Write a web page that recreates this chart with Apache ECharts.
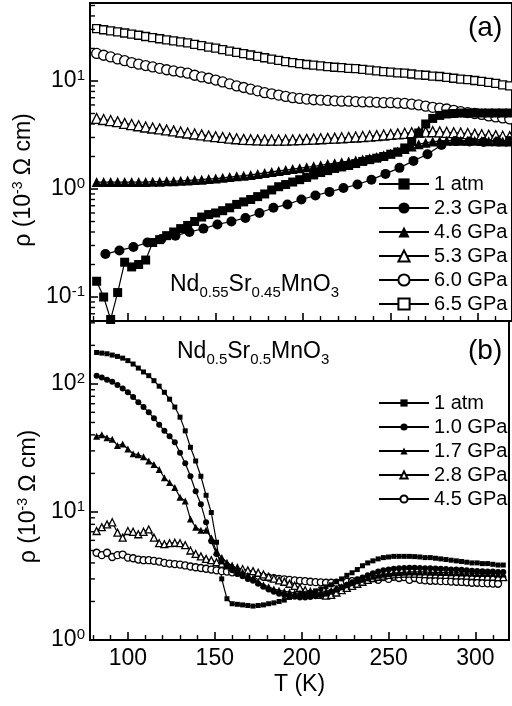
<!DOCTYPE html>
<html>
<head>
<meta charset="utf-8">
<script src="https://cdn.jsdelivr.net/npm/echarts@6/dist/echarts.min.js"></script>
<style>
  html, body { margin: 0; padding: 0; background: #fff; }
  #main { width: 512px; height: 706px; }
</style>
</head>
<body>
<div id="main"></div>
<script>
// ---- panel (a): Nd0.55Sr0.45MnO3 ----
const tA = [82, 86, 90, 94, 98, 102, 106, 110, 114, 118, 122, 126, 130, 134, 138, 142, 146, 150, 154, 158,
  162, 166, 170, 174, 178, 182, 186, 190, 194, 198, 202, 206, 210, 214, 218, 222, 226, 230, 234, 238,
  242, 246, 250, 254, 258, 262, 266, 270, 274, 278, 282, 286, 290, 294, 298, 302, 306, 310, 314, 318];
const a1atm = [0.14, 0.10, 0.062, 0.11, 0.21, 0.19, 0.2, 0.22, 0.32, 0.34,
  0.37, 0.40, 0.43, 0.46, 0.50, 0.55, 0.58, 0.60, 0.63, 0.67,
  0.72, 0.76, 0.80, 0.85, 0.90, 0.98, 1.05, 1.1, 1.16, 1.22,
  1.28, 1.35, 1.42, 1.48, 1.55, 1.6, 1.65, 1.72, 1.8, 1.87,
  1.93, 2.0, 2.1, 2.2, 2.4, 2.75, 3.3, 4.0, 4.5, 4.8,
  4.95, 5.0, 5.05, 5.05, 5.05, 5.05, 5.05, 5.05, 5.05, 5.05];
const t23 = [87, 95, 103, 111, 119, 127, 135, 143, 151, 159, 167, 175, 183, 191, 199,
  207, 215, 223, 231, 239, 247, 255, 263, 271, 279, 287, 295, 303, 311, 318];
const a23 = [0.25, 0.27, 0.29, 0.32, 0.345, 0.37, 0.40, 0.43, 0.47, 0.50, 0.54, 0.60, 0.67, 0.72, 0.80,
  0.87, 0.94, 1.02, 1.10, 1.22, 1.38, 1.57, 1.82, 2.1, 2.55, 2.78, 2.75, 2.72, 2.75, 2.78];
const a46 = [1.16, 1.16, 1.16, 1.16, 1.16, 1.16, 1.16, 1.16, 1.17, 1.17,
  1.18, 1.18, 1.19, 1.2, 1.21, 1.22, 1.24, 1.25, 1.27, 1.29,
  1.31, 1.33, 1.35, 1.38, 1.41, 1.44, 1.47, 1.5, 1.53, 1.56,
  1.59, 1.62, 1.66, 1.7, 1.73, 1.77, 1.8, 1.84, 1.88, 1.93,
  1.98, 2.05, 2.13, 2.22, 2.35, 2.48, 2.6, 2.68, 2.75, 2.78,
  2.8, 2.8, 2.8, 2.8, 2.79, 2.78, 2.77, 2.76, 2.75, 2.75];
const a53 = [4.5, 4.4, 4.3, 4.2, 4.05, 3.95, 3.85, 3.75, 3.67, 3.6,
  3.52, 3.45, 3.37, 3.3, 3.23, 3.17, 3.1, 3.05, 3.0, 2.96,
  2.92, 2.88, 2.86, 2.85, 2.84, 2.84, 2.84, 2.84, 2.85, 2.86,
  2.88, 2.9, 2.92, 2.94, 2.96, 2.98, 3.0, 3.03, 3.06, 3.09,
  3.12, 3.16, 3.2, 3.24, 3.28, 3.32, 3.36, 3.38, 3.4, 3.38,
  3.35, 3.32, 3.3, 3.26, 3.22, 3.18, 3.15, 3.12, 3.08, 3.05];
const a60 = [18.0, 17.3, 16.7, 16.0, 15.4, 14.8, 14.3, 13.9, 13.5, 13.1,
  12.7, 12.4, 12.1, 11.8, 11.3, 10.9, 10.6, 10.2, 9.8, 9.4,
  9.0, 8.7, 8.4, 8.1, 7.8, 7.6, 7.4, 7.2, 7.0, 6.9,
  6.8, 6.7, 6.65, 6.6, 6.55, 6.5, 6.5, 6.45, 6.4, 6.4,
  6.35, 6.3, 6.3, 6.25, 6.2, 6.1, 6.0, 5.85, 5.7, 5.6,
  5.5, 5.35, 5.2, 5.1, 5.0, 4.9, 4.75, 4.65, 4.55, 4.45];
const a65 = [30.5, 29.8, 29.1, 28.5, 27.8, 27.2, 26.5, 25.8, 25.2, 24.6,
  24.0, 23.5, 23.0, 22.5, 21.8, 21.2, 20.6, 20.1, 19.5, 18.9,
  18.4, 17.9, 17.4, 16.9, 16.4, 15.9, 15.5, 15.1, 14.8, 14.5,
  14.2, 14.0, 13.8, 13.6, 13.4, 13.3, 13.1, 13.0, 12.8, 12.6,
  12.4, 12.2, 12.1, 11.9, 11.8, 11.6, 11.4, 11.3, 11.1, 11.0,
  10.8, 10.6, 10.4, 10.3, 10.1, 9.9, 9.7, 9.5, 9.2, 9.0];

// ---- panel (b): Nd0.5Sr0.5MnO3 ----
const tB = [82, 85, 88, 91, 94, 97, 100, 103, 106, 109, 112, 115, 118, 121, 124, 127, 130, 133, 136, 139,
  142, 145, 148, 151, 154, 157, 160, 163, 166, 169, 172, 175, 178, 181, 184, 187, 190, 193, 196, 199,
  202, 205, 208, 211, 214, 217, 220, 223, 226, 229, 232, 235, 238, 241, 244, 247, 250, 253, 256, 259,
  262, 265, 268, 271, 274, 277, 280, 283, 286, 289, 292, 295, 298, 301, 304, 307, 310, 313, 316];
const b1atm = [176, 174, 172, 168, 164, 159, 152, 143, 133, 124,
  116, 106, 96, 86, 76, 66, 55, 43, 32, 25,
  19, 13.5, 9.9, 5.8, 3.0, 2.1, 1.92, 1.9, 1.88, 1.86,
  1.84, 1.86, 1.88, 1.92, 1.95, 2.0, 2.05, 2.15, 2.2, 2.25,
  2.3, 2.35, 2.42, 2.5, 2.6, 2.7, 2.85, 3.0, 3.2, 3.35,
  3.55, 3.8, 4.0, 4.15, 4.3, 4.4, 4.45, 4.5, 4.5, 4.5,
  4.5, 4.48, 4.45, 4.4, 4.4, 4.35, 4.3, 4.25, 4.2, 4.15,
  4.1, 4.05, 4.0, 4.0, 3.95, 3.95, 3.9, 3.85, 3.85];
const b10 = [116, 112, 108, 104, 98, 92, 86, 79, 72, 66,
  60, 54, 48, 43, 39, 35, 29, 24, 19, 14.5,
  11.5, 8.3, 5.9, 4.7, 4.1, 3.75, 3.5, 3.3, 3.15, 3.0,
  2.9, 2.75, 2.6, 2.48, 2.38, 2.3, 2.25, 2.2, 2.18, 2.15,
  2.15, 2.17, 2.2, 2.25, 2.3, 2.38, 2.47, 2.58, 2.7, 2.82,
  2.95, 3.08, 3.2, 3.32, 3.42, 3.5, 3.56, 3.6, 3.63, 3.65,
  3.66, 3.66, 3.65, 3.64, 3.63, 3.62, 3.6, 3.58, 3.56, 3.55,
  3.53, 3.5, 3.48, 3.46, 3.45, 3.43, 3.42, 3.4, 3.4];
const b17 = [39, 40, 38, 37, 33, 34, 31, 28.5, 28, 27,
  25, 23.5, 21.5, 18.5, 17, 15.5, 13, 12.2, 8.8, 7.6,
  7.2, 7.2, 6.3, 4.9, 4.4, 4.05, 3.8, 3.6, 3.4, 3.2,
  3.05, 2.85, 2.7, 2.6, 2.5, 2.45, 2.4, 2.37, 2.34, 2.32,
  2.3, 2.3, 2.32, 2.35, 2.4, 2.45, 2.52, 2.6, 2.7, 2.8,
  2.9, 2.98, 3.06, 3.14, 3.2, 3.26, 3.3, 3.33, 3.36, 3.38,
  3.4, 3.4, 3.4, 3.4, 3.38, 3.38, 3.37, 3.36, 3.35, 3.35,
  3.34, 3.33, 3.32, 3.31, 3.3, 3.3, 3.3, 3.28, 3.27];
const b28 = [7.1, 7.6, 8.0, 8.3, 6.9, 6.3, 7.1, 7.0, 6.7, 7.0,
  7.3, 6.3, 5.7, 5.6, 5.7, 5.75, 5.7, 5.5, 5.0, 4.7,
  4.5, 4.3, 4.2, 4.05, 3.95, 3.85, 3.75, 3.65, 3.58, 3.5,
  3.45, 3.35, 3.25, 3.12, 3.02, 2.92, 2.85, 2.75, 2.65, 2.55,
  2.45, 2.38, 2.3, 2.25, 2.22, 2.25, 2.35, 2.45, 2.55, 2.65,
  2.75, 2.85, 2.95, 3.05, 3.12, 3.18, 3.22, 3.25, 3.28, 3.3,
  3.3, 3.3, 3.28, 3.27, 3.25, 3.25, 3.24, 3.23, 3.22, 3.2,
  3.2, 3.18, 3.16, 3.15, 3.14, 3.13, 3.12, 3.1, 3.1];
const b45 = [4.8, 4.6, 4.8, 4.45, 4.6, 4.65, 4.4, 4.35, 4.25, 4.2,
  4.2, 4.15, 4.1, 4.0, 3.95, 3.92, 3.88, 3.82, 3.75, 3.7,
  3.65, 3.6, 3.55, 3.5, 3.45, 3.42, 3.38, 3.35, 3.3, 3.25,
  3.22, 3.18, 3.12, 3.07, 3.04, 3.0, 2.98, 2.95, 2.92, 2.9,
  2.88, 2.85, 2.83, 2.82, 2.8, 2.8, 2.8, 2.82, 2.85, 2.88,
  2.92, 2.95, 2.98, 3.05, 2.95, 3.1, 3.0, 3.12, 3.05, 3.1,
  2.95, 3.05, 2.95, 2.92, 2.9, 2.9, 2.88, 2.88, 2.86, 2.85,
  2.84, 2.82, 2.8, 2.8, 2.78, 2.77, 2.76, 2.75, null];

// log minor ticks (2..9 per decade)
const minorA = [0.07, 0.08, 0.09, 0.2, 0.3, 0.4, 0.5, 0.6, 0.7, 0.8, 0.9,
  2, 3, 4, 5, 6, 7, 8, 9, 20, 30, 40, 50];
const minorB = [2, 3, 4, 5, 6, 7, 8, 9, 20, 30, 40, 50, 60, 70, 80, 90, 200, 300];

const FONT = '"Liberation Sans", Arial, Helvetica, sans-serif';
const X_MIN = 78.2, X_MAX = 319.3;

function pairs(xs, ys) {
  return xs.map((x, i) => [x, ys[i]]);
}

function line(name, idx, xs, ys, symbol, size, open) {
  return {
    name: name,
    type: 'line',
    xAxisIndex: idx,
    yAxisIndex: idx,
    data: pairs(xs, ys),
    symbol: symbol,
    symbolSize: size,
    showSymbol: true,
    lineStyle: { color: '#000', width: 1.2 },
    itemStyle: open
      ? { color: '#fff', borderColor: '#000', borderWidth: 1.3 }
      : { color: '#000', borderColor: '#000', borderWidth: 0 },
    emphasis: { disabled: true }
  };
}

function minorTicks(idx, vals) {
  return {
    type: 'custom',
    xAxisIndex: idx,
    yAxisIndex: idx,
    silent: true,
    clip: false,
    z: 5,
    data: vals.map(v => [X_MIN, v]),
    renderItem: (params, api) => {
      const p = api.coord([api.value(0), api.value(1)]);
      return {
        type: 'line',
        shape: { x1: p[0], y1: p[1], x2: p[0] + 5, y2: p[1] },
        style: { stroke: '#000', lineWidth: 1.4 }
      };
    }
  };
}

function logLabel(v) {
  const l = Math.log10(v);
  const e = Math.round(l);
  if (Math.abs(l - e) > 1e-6) return '';
  return '{b|10}{s|' + e + '}';
}

const supRich = {
  b: { fontFamily: FONT, fontSize: 23, color: '#000', lineHeight: 26 },
  s: { fontFamily: FONT, fontSize: 15, color: '#000', verticalAlign: 'top', lineHeight: 15 }
};

function yAxis(idx, min, max, shift) {
  return {
    type: 'log',
    logBase: 10,
    gridIndex: idx,
    min: min,
    max: max,
    axisLine: { show: true, lineStyle: { color: '#000', width: 2 } },
    axisTick: { show: true, inside: true, length: 8, lineStyle: { color: '#000', width: 1.6 } },
    axisLabel: { margin: 5, formatter: logLabel, rich: supRich },
    splitLine: { show: false },
    name: '{b|ρ (10}{s|-3}{b| Ω cm)}',
    nameLocation: 'middle',
    nameRotate: 90,
    nameGap: 46,
    nameTextStyle: {
      rich: {
        b: { fontFamily: FONT, fontSize: 23, color: '#000', lineHeight: 26 },
        s: { fontFamily: FONT, fontSize: 14, color: '#000', verticalAlign: 'top', lineHeight: 14 }
      },
      padding: [0, shift, 0, 0]
    }
  };
}

function xAxis(idx) {
  return {
    type: 'value',
    gridIndex: idx,
    min: X_MIN,
    max: X_MAX,
    splitNumber: 5,
    axisLine: { show: true, onZero: false, lineStyle: { color: '#000', width: 2 } },
    axisTick: { show: true, inside: true, length: 8, lineStyle: { color: '#000', width: 1.6 } },
    minorTick: { show: true, splitNumber: 5, length: 5, lineStyle: { color: '#000', width: 1.4 } },
    axisLabel: {
      show: idx === 1,
      margin: 7,
      fontFamily: FONT,
      fontSize: 23,
      color: '#000',
      formatter: v => (Math.abs(v % 50) < 1e-6 ? String(v) : '')
    },
    splitLine: { show: false },
    name: idx === 1 ? 'T (K)' : '',
    nameLocation: 'middle',
    nameGap: 33,
    nameTextStyle: { fontFamily: FONT, fontSize: 23, color: '#000' }
  };
}

const legendText = { fontFamily: FONT, fontSize: 20, color: '#000', lineHeight: 20 };
const formulaRich = {
  n: { fontFamily: FONT, fontSize: 23, fontWeight: 'normal', color: '#000', lineHeight: 30 },
  s: { fontFamily: FONT, fontSize: 15, fontWeight: 'normal', color: '#000', verticalAlign: 'bottom', lineHeight: 15 }
};

const option = {
  animation: false,
  backgroundColor: '#fff',
  title: [
    { text: '(a)', left: 468, top: 14, padding: 0,
      textStyle: { fontFamily: FONT, fontSize: 28, fontWeight: 'normal', color: '#000' } },
    { text: '(b)', left: 468, top: 337, padding: 0,
      textStyle: { fontFamily: FONT, fontSize: 28, fontWeight: 'normal', color: '#000' } },
    { text: '{n|Nd}{s|0.55}{n|Sr}{s|0.45}{n|MnO}{s|3}', left: 170, top: 270, padding: 0,
      textStyle: { fontWeight: 'normal', rich: formulaRich } },
    { text: '{n|Nd}{s|0.5}{n|Sr}{s|0.5}{n|MnO}{s|3}', left: 177, top: 337, padding: 0,
      textStyle: { fontWeight: 'normal', rich: formulaRich } }
  ],
  legend: [
    {
      data: ['1 atm', '2.3 GPa', '4.6 GPa', '5.3 GPa', '6.0 GPa', '6.5 GPa'],
      orient: 'vertical', left: 378, top: 174, padding: 0,
      itemWidth: 50, itemHeight: 14, itemGap: 4,
      selectedMode: false, textStyle: legendText
    },
    {
      data: ['1 atm ', '1.0 GPa', '1.7 GPa', '2.8 GPa', '4.5 GPa'],
      orient: 'vertical', left: 378, top: 393, padding: 0,
      itemWidth: 50, itemHeight: 9, itemGap: 4,
      selectedMode: false, textStyle: legendText
    }
  ],
  grid: [
    { left: 90, right: -2, top: 3, height: 318, show: true, borderColor: '#000', borderWidth: 2 },
    { left: 90, right: -2, top: 321, bottom: 66, show: true, borderColor: '#000', borderWidth: 2 }
  ],
  xAxis: [xAxis(0), xAxis(1)],
  yAxis: [yAxis(0, 0.0600, 52.7, 36), yAxis(1, 1, 310, 32)],
  series: [
    line('6.5 GPa', 0, tA, a65, 'rect', 8, true),
    line('6.0 GPa', 0, tA, a60, 'circle', 10, true),
    line('5.3 GPa', 0, tA, a53, 'triangle', 10, true),
    line('4.6 GPa', 0, tA, a46, 'triangle', 10, false),
    line('2.3 GPa', 0, t23, a23, 'circle', 10, false),
    line('1 atm', 0, tA, a1atm, 'rect', 9, false),
    line('4.5 GPa', 1, tB, b45, 'circle', 7, true),
    line('2.8 GPa', 1, tB, b28, 'triangle', 7, true),
    line('1.7 GPa', 1, tB, b17, 'triangle', 7, false),
    line('1.0 GPa', 1, tB, b10, 'circle', 6, false),
    line('1 atm ', 1, tB, b1atm, 'rect', 5, false),
    minorTicks(0, minorA),
    minorTicks(1, minorB)
  ]
};

const chart = echarts.init(document.getElementById('main'), null, { renderer: 'canvas' });
chart.setOption(option);
</script>
</body>
</html>
